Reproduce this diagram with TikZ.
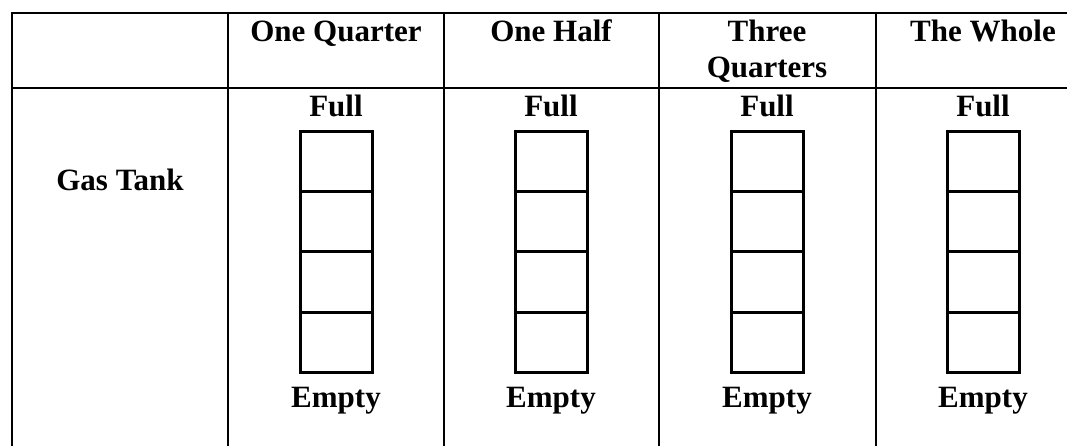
\documentclass[tikz,border=0pt]{standalone}
\usepackage{fontspec}
\setmainfont{Liberation Serif}
\usetikzlibrary{positioning}

\begin{document}
\begin{tikzpicture}[x=1pt,y=-1pt,
    grid/.style={line width=2pt},
    lbl/.style={font=\bfseries\fontsize{31}{36}\selectfont, anchor=base, inner sep=0pt, align=center},
    cell/.style={draw, line width=3pt, minimum width=72pt, minimum height=60.25pt, inner sep=0pt, outer sep=0pt}]
  \useasboundingbox (0,0) rectangle (1067,446);
  % table rules
  \draw[grid] (1067,13) -- (12,13) -- (12,446);
  \draw[grid] (12,88) -- (1067,88);
  \foreach \x in {228,444,659,876} \draw[grid] (\x,13) -- (\x,446);
  % row label
  \node[lbl] (gas) at (120,191) {Gas Tank};
  % one column per fraction: heading, tank of four cells, Full/Empty
  \foreach \x/\y/\name/\txt in {336/42/quarter/One Quarter, 551/42/half/One Half, 767/78/threeq/Three\\Quarters, 983/42/whole/The Whole}{
    \node[lbl] (\name) at (\x,\y) {\txt};
    \node[cell] (\name-1) at (\x,161.6) {};
    \foreach \r [count=\p] in {2,3,4}
      \node[cell, below=0pt of \name-\p] (\name-\r) {};
    \node[lbl] (\name-full) at (\x,117) {Full};
    \node[lbl] (\name-empty) at (\x,407) {Empty};
  }
\end{tikzpicture}
\end{document}
